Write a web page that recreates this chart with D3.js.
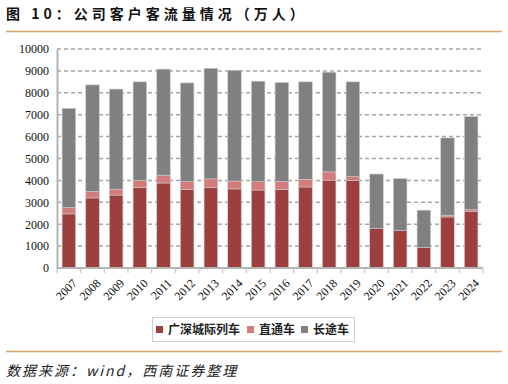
<!DOCTYPE html>
<html>
<head>
<meta charset="utf-8">
<script src="https://cdn.jsdelivr.net/npm/d3@7"></script>
<style>
  body { margin: 0; background: #fff; }
  #chart { width: 508px; height: 384px; }
</style>
</head>
<body>
<div id="chart"></div>
<script>
// data (万人)
const years = ["2007","2008","2009","2010","2011","2012","2013","2014","2015",
               "2016","2017","2018","2019","2020","2021","2022","2023","2024"];
const intercity = [2470, 3200, 3330, 3680, 3880, 3580, 3680, 3610, 3560,
                   3590, 3700, 4010, 4000, 1800, 1710, 940, 2330, 2590];
const through = [300, 300, 270, 320, 360, 360, 390, 360, 380,
                 360, 350, 380, 170, 0, 0, 0, 80, 90];
const longDist = [4520, 4860, 4570, 4500, 4840, 4510, 5050, 5060, 4590,
                  4520, 4450, 4550, 4330, 2490, 2370, 1700, 3530, 4230];
const seriesNames = ["广深城际列车", "直通车", "长途车"];
const colors = ["#9e3f3f", "#d47b7b", "#808080"];
const yTicks = d3.range(0, 10001, 1000);

const width = 508, height = 384;
const margin = {top: 49, right: 25, bottom: 116, left: 57};
const plotW = width - margin.left - margin.right;
const plotH = height - margin.top - margin.bottom;

const svg = d3.select("#chart").append("svg")
    .attr("width", width)
    .attr("height", height);

// title + rules
svg.append("text")
    .attr("x", 6).attr("y", 19)
    .attr("font-family", "Noto Sans CJK SC")
    .attr("font-size", 14)
    .attr("font-weight", "bold")
    .attr("letter-spacing", 4)
    .attr("fill", "#111")
    .text("图 10：公司客户客流量情况（万人）");

svg.append("line")
    .attr("x1", 6).attr("x2", 502).attr("y1", 31.5).attr("y2", 31.5)
    .attr("stroke", "#d2a868").attr("stroke-width", 1.6);
svg.append("line")
    .attr("x1", 6).attr("x2", 502).attr("y1", 351.5).attr("y2", 351.5)
    .attr("stroke", "#d2a868").attr("stroke-width", 1.6);

svg.append("text")
    .attr("x", 6).attr("y", 376)
    .attr("font-family", "Noto Sans CJK SC")
    .attr("font-size", 14)
    .attr("font-style", "italic")
    .attr("letter-spacing", 2)
    .attr("fill", "#222")
    .text("数据来源：wind，西南证券整理");

const plot = svg.append("g")
    .attr("transform", `translate(${margin.left},${margin.top})`);

const x = d3.scaleBand().domain(years).range([0, plotW]).paddingInner(0.43).paddingOuter(0.215);
const y = d3.scaleLinear().domain([0, 10000]).range([plotH, 0]);

// gridlines
plot.append("g")
    .selectAll("line")
    .data(yTicks.slice(1))
    .join("line")
    .attr("x1", 0).attr("x2", plotW)
    .attr("y1", d => y(d)).attr("y2", d => y(d))
    .attr("stroke", "#a6a6a6")
    .attr("stroke-width", 1.5)
    .attr("stroke-dasharray", "4,3");

// stacked bars
const rows = years.map((yr, i) => ({year: yr, s0: intercity[i], s1: through[i], s2: longDist[i]}));
const stack = d3.stack().keys(["s0", "s1", "s2"])(rows);

plot.append("g")
    .selectAll("g")
    .data(stack)
    .join("g")
    .attr("fill", (d, i) => colors[i])
    .selectAll("rect")
    .data(d => d)
    .join("rect")
    .attr("x", d => x(d.data.year))
    .attr("width", x.bandwidth())
    .attr("y", d => y(d[1]))
    .attr("height", d => y(d[0]) - y(d[1]))
    .attr("stroke", "#c8c8c8")
    .attr("stroke-width", d => (d[1] - d[0]) > 0 ? 0.6 : 0);

// y axis
const yAxis = plot.append("g")
    .call(d3.axisLeft(y).tickValues(yTicks).tickSize(0).tickPadding(8).tickFormat(d3.format("d")));
yAxis.select(".domain").attr("stroke", "#b3b3b3").attr("stroke-width", 2);
yAxis.selectAll("text")
    .attr("font-family", "Liberation Serif")
    .attr("font-size", 12)
    .attr("fill", "#111");

// x axis with ticks at band boundaries
const xAxis = plot.append("g")
    .attr("transform", `translate(0,${plotH})`);
xAxis.append("line")
    .attr("x1", 0).attr("x2", plotW)
    .attr("stroke", "#b3b3b3").attr("stroke-width", 2);
const step = x.step();
xAxis.selectAll(".tk")
    .data(d3.range(years.length + 1))
    .join("line")
    .attr("class", "tk")
    .attr("x1", i => i * step).attr("x2", i => i * step)
    .attr("y1", 0).attr("y2", 5)
    .attr("stroke", "#c4c4c4").attr("stroke-width", 1.2);
xAxis.selectAll(".lbl")
    .data(years)
    .join("text")
    .attr("class", "lbl")
    .attr("transform", d => `translate(${x(d) + x.bandwidth() / 2 + 3},${10}) rotate(-45)`)
    .attr("text-anchor", "end")
    .attr("dy", "0.7em")
    .attr("font-family", "Liberation Serif")
    .attr("font-size", 12)
    .attr("fill", "#111")
    .text(d => d);

// legend
const legend = svg.append("g");
legend.append("rect")
    .attr("x", 152.5).attr("y", 317.5).attr("width", 202).attr("height", 24)
    .attr("fill", "#fff").attr("stroke", "#cfcfcf");
const legX = [156, 247, 301];
const items = legend.selectAll(".it")
    .data(seriesNames)
    .join("g")
    .attr("class", "it")
    .attr("transform", (d, i) => `translate(${legX[i]},326)`);
items.append("rect")
    .attr("width", 7).attr("height", 7)
    .attr("fill", (d, i) => colors[i]);
items.append("text")
    .attr("x", 12).attr("y", 8)
    .attr("font-family", "Noto Sans CJK SC")
    .attr("font-size", 12)
    .attr("font-weight", "bold")
    .attr("fill", "#222")
    .text(d => d);
</script>
</body>
</html>
